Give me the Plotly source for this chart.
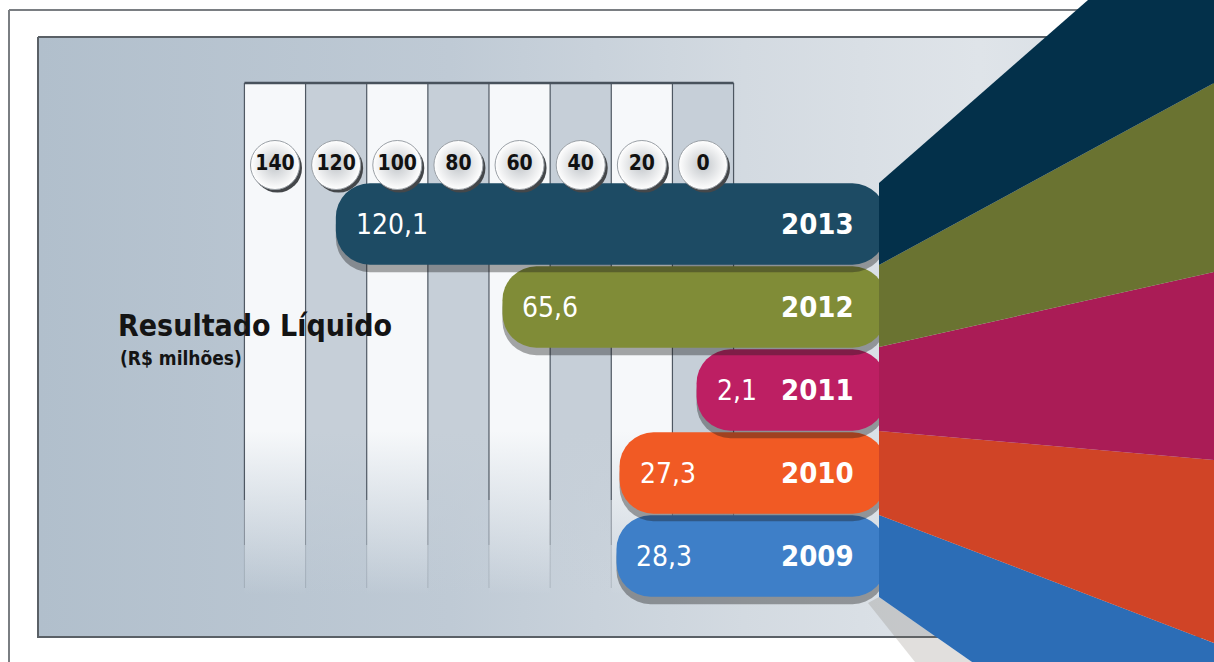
import plotly.graph_objects as go

# data
years = [2009, 2010, 2011, 2012, 2013]
values = [28.3, 27.3, 2.1, 65.6, 120.1]
tick_values = [140, 120, 100, 80, 60, 40, 20, 0]
tick_labels = ["140", "120", "100", "80", "60", "40", "20", "0"]

bar_colors = ["#3e7fc8", "#f15a24", "#bd1f63", "#808c37", "#1d4b64"]
fan_colors = ["#2c6db6", "#d04426", "#aa1c56", "#6a7331", "#03304a"]

W, H = 1214, 662
ZERO_PX = 703
PPU = 428 / 140  # pixels per value unit
ROW = 83  # pixels per year row
Y2009_PX = 556
EXT = 60  # bars run past zero, under the fan

NARROW = "Liberation Sans Narrow, DejaVu Sans Condensed, Liberation Sans, Arial"


def v2px(v):
    return ZERO_PX - v * PPU


def px2yr(px):
    return years[0] + (Y2009_PX - px) / ROW


fig = go.Figure()

# background panel (pixel axes)
fig.add_trace(
    go.Scatter(
        x=[38, W, W, 38, 38],
        y=[37, 37, 637, 637, 37],
        fill="toself",
        mode="lines",
        line=dict(color="#5a6066", width=2),
        fillgradient=dict(
            type="horizontal",
            colorscale=[
                [0, "#b1bfcc"],
                [0.35, "#bfcad5"],
                [0.6, "#d3dae1"],
                [0.8, "#dfe4e9"],
                [1, "#d4dbe2"],
            ],
            start=38,
            stop=W,
        ),
        hoverinfo="skip",
        showlegend=False,
    )
)

# column stripes behind the bars
for i, t in enumerate(tick_values):
    x0, x1 = v2px(t + 10), v2px(t - 10)
    c = (246, 248, 250) if i % 2 == 0 else (198, 207, 216)
    solid = f"rgba({c[0]},{c[1]},{c[2]},1)"
    clear = f"rgba({c[0]},{c[1]},{c[2]},0)"
    fig.add_trace(
        go.Scatter(
            x=[x0, x1, x1, x0, x0],
            y=[83, 83, 595, 595, 83],
            fill="toself",
            mode="lines",
            line=dict(width=0),
            fillgradient=dict(
                type="vertical",
                colorscale=[[0, solid], [0.68, solid], [1, clear]],
                start=83,
                stop=595,
            ),
            hoverinfo="skip",
            showlegend=False,
        )
    )

edges = [v2px(t + 10) for t in tick_values] + [v2px(tick_values[-1] - 10)]
for xe in edges:
    fig.add_trace(
        go.Scatter(
            x=[xe, xe], y=[83, 500], mode="lines",
            line=dict(color="rgba(55,65,75,0.85)", width=1.2),
            hoverinfo="skip", showlegend=False,
        )
    )
    fig.add_trace(
        go.Scatter(
            x=[xe, xe], y=[500, 545], mode="lines",
            line=dict(color="rgba(55,65,75,0.45)", width=1),
            hoverinfo="skip", showlegend=False,
        )
    )
    fig.add_trace(
        go.Scatter(
            x=[xe, xe], y=[545, 588], mode="lines",
            line=dict(color="rgba(55,65,75,0.18)", width=1),
            hoverinfo="skip", showlegend=False,
        )
    )
fig.add_trace(
    go.Scatter(
        x=[edges[0], edges[-1]], y=[83, 83], mode="lines",
        line=dict(color="#48525c", width=2.5),
        hoverinfo="skip", showlegend=False,
    )
)

# tick bubbles on the value axis
bubble_y = px2yr(165)
fig.add_trace(
    go.Scatter(
        x=[t - 2.5 / PPU for t in tick_values],
        y=[bubble_y - 3 / ROW] * len(tick_values),
        mode="markers",
        marker=dict(size=49, color="#44474a"),
        xaxis="x2", yaxis="y2",
        hoverinfo="skip", showlegend=False,
    )
)
fig.add_trace(
    go.Scatter(
        x=tick_values,
        y=[bubble_y] * len(tick_values),
        mode="markers+text",
        text=tick_labels,
        textposition="middle center",
        textfont=dict(family=NARROW, size=21, color="#111111", weight="bold"),
        marker=dict(
            size=49,
            color="#ffffff",
            gradient=dict(type="radial", color="#c2c6ca"),
            line=dict(color="#9aa0a6", width=1),
        ),
        xaxis="x2", yaxis="y2",
        hoverinfo="skip", showlegend=False,
    )
)

# bars, bottom row first so upper shadows fall on lower bars
for yr, v, col in zip(years, values, bar_colors):
    fig.add_trace(
        go.Bar(
            y=[yr - 0.09], x=[v + EXT], base=-EXT,
            orientation="h", width=0.98,
            marker=dict(color="rgba(25,25,25,0.38)", cornerradius=34, line=dict(width=0)),
            xaxis="x2", yaxis="y2",
            hoverinfo="skip", showlegend=False,
        )
    )
    fig.add_trace(
        go.Bar(
            y=[yr], x=[v + EXT], base=-EXT,
            orientation="h", width=0.98,
            marker=dict(color=col, cornerradius=34, line=dict(width=0)),
            xaxis="x2", yaxis="y2",
            hovertemplate=f"{yr}: {v:.1f}<extra></extra>",
            showlegend=False,
        )
    )

annotations = []
for yr, v in zip(years, values):
    annotations.append(dict(
        x=v, y=yr, xref="x2", yref="y2", xanchor="left", xshift=18,
        text=f"{v:.1f}".replace(".", ","), showarrow=False,
        font=dict(family=NARROW, size=28, color="#ffffff"),
    ))
    annotations.append(dict(
        x=-50, y=yr, xref="x2", yref="y2", xanchor="right",
        text=f"<b>{yr}</b>", showarrow=False,
        font=dict(family=NARROW, size=29, color="#ffffff"),
    ))

annotations.append(dict(
    x=116, y=325, xref="x", yref="y", xanchor="left", yanchor="middle",
    text="<b>Resultado Líquido</b>", showarrow=False,
    font=dict(family=NARROW, size=30, color="#141414"),
))
annotations.append(dict(
    x=118, y=358, xref="x", yref="y", xanchor="left", yanchor="middle",
    text="<b>(R$ milhões)</b>", showarrow=False,
    font=dict(family=NARROW, size=19, color="#141414"),
))

# fan on the right, drawn above the bar ends
fan = [
    [(879, 515), (W, 643), (W, H), (972, H), (879, 597)],
    [(879, 431), (W, 460), (W, 643), (879, 515)],
    [(879, 347), (W, 272), (W, 460), (879, 431)],
    [(879, 265), (W, 83), (W, 272), (879, 347)],
    [(879, 183), (1088, 0), (W, 0), (W, 83), (879, 265)],
]
shapes = [
    # outer frame
    dict(type="line", xref="x", yref="y", x0=9, y0=10, x1=1100, y1=10,
         line=dict(color="#7a7e82", width=2), layer="below"),
    dict(type="line", xref="x", yref="y", x0=9, y0=10, x1=9, y1=H,
         line=dict(color="#7a7e82", width=2), layer="below"),
    # soft shadow under the fan bottom
    dict(type="path", xref="x", yref="y",
         path="M 879 597 L 972 662 L 915 662 L 868 603 Z",
         fillcolor="rgba(120,110,100,0.22)", line=dict(width=0), layer="above"),
]
for pts, col in zip(fan, fan_colors):
    path = "M " + " L ".join(f"{x} {y}" for x, y in pts) + " Z"
    shapes.append(dict(type="path", xref="x", yref="y", path=path,
                       fillcolor=col, line=dict(width=0), layer="above"))

fig.update_layout(
    width=W,
    height=H,
    margin=dict(l=0, r=0, t=0, b=0),
    paper_bgcolor="#ffffff",
    plot_bgcolor="rgba(0,0,0,0)",
    barmode="overlay",
    showlegend=False,
    xaxis=dict(range=[0, W], visible=False, fixedrange=True),
    yaxis=dict(range=[H, 0], visible=False, fixedrange=True),
    xaxis2=dict(
        range=[ZERO_PX / PPU, -(W - ZERO_PX) / PPU],
        overlaying="x", visible=False, fixedrange=True,
    ),
    yaxis2=dict(
        range=[px2yr(H), px2yr(0)],
        overlaying="y", visible=False, fixedrange=True,
    ),
    shapes=shapes,
    annotations=annotations,
)

fig.write_html(
    "out.html",
    config={"displayModeBar": False},
    post_script="document.body.style.margin = '0';",
)
